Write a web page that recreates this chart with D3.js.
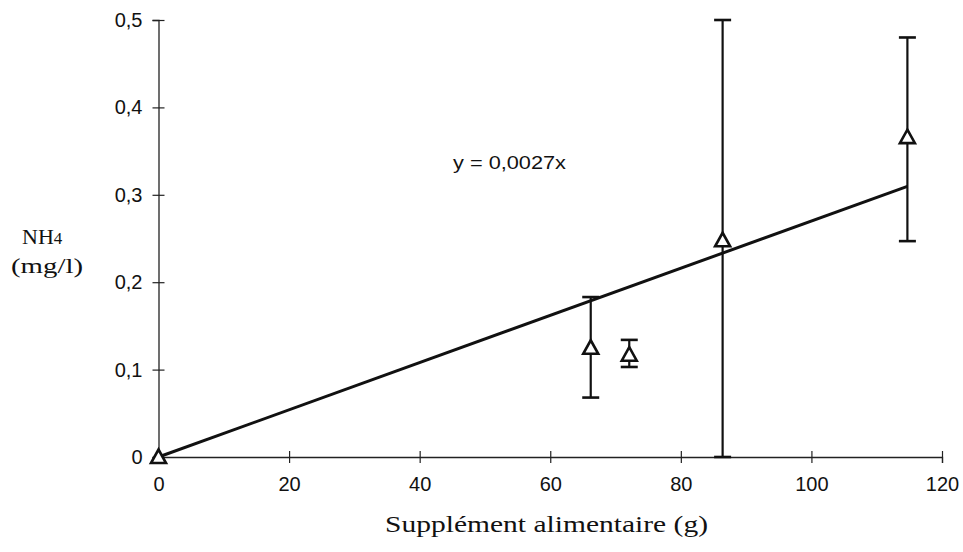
<!DOCTYPE html>
<html>
<head>
<meta charset="utf-8">
<script src="https://cdn.jsdelivr.net/npm/d3@7"></script>
<style>
  html, body { margin: 0; padding: 0; background: #fff; }
  svg { display: block; }
</style>
</head>
<body>
<svg id="chart" width="963" height="552"></svg>
<script>
// ---- data ----
const supplement = [0, 66.2, 72.1, 86.4, 114.7];          // g
const nh4Mean    = [0, 0.125, 0.117, 0.248, 0.366];        // mg/l
const nh4Low     = [0, 0.068, 0.103, 0.0, 0.247];
const nh4High    = [0, 0.183, 0.134, 0.5, 0.48];
const slope = 0.0027;
const xTicks = [0, 20, 40, 60, 80, 100, 120];
const yTicks = [0, 0.1, 0.2, 0.3, 0.4, 0.5];
const equationLabel = "y = 0,0027x";
const xTitle = "Supplément alimentaire (g)";

// ---- layout ----
const svg = d3.select("#chart");
const x = d3.scaleLinear().domain([0, 120]).range([158.5, 942]);
const y = d3.scaleLinear().domain([0, 0.5]).range([457, 20]);
const ink = "#111";
const fmt = d3.formatLocale({decimal: ",", thousands: " ", grouping: [3], currency: ["", ""]}).format(".1f");
const yFmt = d => d === 0 ? "0" : fmt(d);

// axes
const xAxis = svg.append("g").attr("transform", `translate(0,${y(0)})`)
  .call(d3.axisBottom(x).tickValues(xTicks).tickSize(6).tickPadding(14).tickFormat(d3.format("d")));
xAxis.selectAll(".tick line").attr("y1", -6).attr("y2", 6);
const yAxis = svg.append("g").attr("transform", `translate(${x(0)},0)`)
  .call(d3.axisLeft(y).tickValues(yTicks).tickSize(6).tickPadding(12).tickFormat(yFmt));
yAxis.selectAll(".tick line").attr("x1", -6).attr("x2", 6);
[xAxis, yAxis].forEach(a => {
  a.select(".domain").attr("stroke", "#222").attr("stroke-width", 1.3);
  a.selectAll(".tick line").attr("stroke", "#222").attr("stroke-width", 1.2);
  a.selectAll(".tick text").attr("fill", ink)
    .style("font-family", "'Liberation Sans', Arial, sans-serif").style("font-size", "20px");
});
xAxis.selectAll(".tick text").attr("dy", "0.71em").attr("y", 20);
yAxis.selectAll(".tick text").attr("x", -16);

// regression line
const maxX = d3.max(supplement);
svg.append("path")
  .datum([0, maxX])
  .attr("d", d3.line().x(d => x(d)).y(d => y(slope * d)))
  .attr("fill", "none").attr("stroke", ink).attr("stroke-width", 3);

// error bars
const idx = d3.range(supplement.length).filter(i => nh4High[i] !== nh4Low[i]);
const eb = svg.append("g").attr("stroke", ink);
idx.forEach(i => {
  const cx = x(supplement[i]);
  eb.append("line").attr("x1", cx).attr("x2", cx).attr("y1", y(nh4Low[i])).attr("y2", y(nh4High[i])).attr("stroke-width", 2.2);
  [nh4Low[i], nh4High[i]].forEach(v => {
    eb.append("line").attr("x1", cx - 8.5).attr("x2", cx + 8.5).attr("y1", y(v)).attr("y2", y(v)).attr("stroke-width", 2.6);
  });
});

// triangle markers
const tri = (cx, cy) => `M${cx},${cy - 7.5}L${cx + 7.5},${cy + 6}L${cx - 7.5},${cy + 6}Z`;
svg.append("g").selectAll("path").data(d3.range(supplement.length)).join("path")
  .attr("d", i => tri(x(supplement[i]), y(nh4Mean[i])))
  .attr("fill", "#fff").attr("stroke", ink).attr("stroke-width", 2.6).attr("stroke-linejoin", "miter");

// equation label
svg.append("text").attr("x", 453).attr("y", 169)
  .attr("textLength", 113).attr("lengthAdjust", "spacingAndGlyphs")
  .style("font-family", "'Liberation Sans', Arial, sans-serif").style("font-size", "17.5px")
  .attr("fill", ink).text(equationLabel);

// axis titles
svg.append("text").attr("x", 385).attr("y", 532)
  .attr("textLength", 323).attr("lengthAdjust", "spacingAndGlyphs")
  .style("font-family", "'Liberation Serif', 'Times New Roman', serif").style("font-size", "23px")
  .attr("fill", ink).text(xTitle);

const yt = svg.append("text").attr("x", 22).attr("y", 244)
  .style("font-family", "'Liberation Serif', 'Times New Roman', serif").style("font-size", "22px").attr("fill", ink);
yt.append("tspan").text("NH");
yt.append("tspan").style("font-size", "17px").text("4");
svg.append("text").attr("x", 11).attr("y", 273)
  .attr("textLength", 72).attr("lengthAdjust", "spacingAndGlyphs")
  .style("font-family", "'Liberation Serif', 'Times New Roman', serif").style("font-size", "22px")
  .attr("fill", ink).text("(mg/l)");
</script>
</body>
</html>
